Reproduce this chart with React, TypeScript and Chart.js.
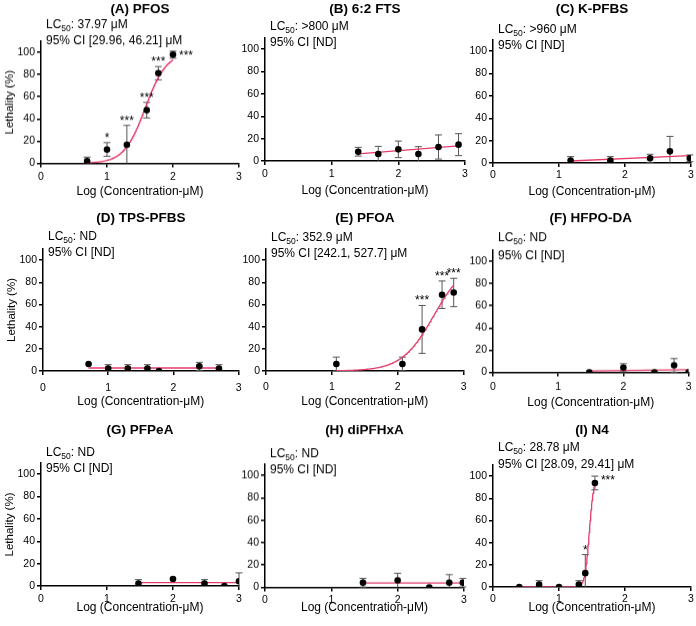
import React, { useEffect, useRef } from "react";
import { Chart, registerables } from "chart.js";

Chart.register(...registerables);

const FONT = '"Liberation Sans", Arial, Helvetica, sans-serif';
const FIT_COLOR = "#e33d6b";
const ERR_COLOR = "#555555";
const X_TITLE = "Log (Concentration-μM)";
const Y_TITLE = "Lethality (%)";
const X_TICKS = [0, 1, 2, 3];
const Y_TICKS = [0, 20, 40, 60, 80, 100];

// (A) PFOS
const pfosX = [0.699, 1.0, 1.301, 1.602, 1.778, 2.0];
const pfosY = [2.1, 12.5, 16.7, 47.9, 81.2, 97.9];
const pfosSd = [3.5, 6.2, 17.5, 7.0, 6.0, 3.2];
const pfosStars = ["", "*", "***", "***", "***", "***"];
const pfosStarSide = ["", "above", "above", "above", "above", "right"];
const pfosLc50 = 37.97;
const pfosHill = 2.7;

// (B) 6:2 FTS
const ftsX = [1.398, 1.699, 2.0, 2.301, 2.602, 2.903];
const ftsY = [8.3, 6.3, 10.4, 6.3, 12.5, 14.6];
const ftsSd = [3.9, 6.8, 7.4, 6.5, 10.8, 9.8];
const ftsFitX = [1.398, 2.903];
const ftsFitY = [6.3, 13.6];

// (C) K-PFBS
const kpfbsX = [1.176, 1.778, 2.38, 2.681, 2.982];
const kpfbsY = [2.1, 2.1, 4.2, 10.4, 4.2];
const kpfbsSd = [3.6, 3.6, 3.6, 13.4, 3.0];
const kpfbsFitX = [1.176, 2.982];
const kpfbsFitY = [1.8, 6.6];

// (D) TPS-PFBS
const tpsX = [0.699, 1.0, 1.301, 1.602, 1.778, 2.398, 2.699];
const tpsY = [6.3, 2.1, 2.1, 2.1, 0, 4.2, 2.1];
const tpsSd = [0, 3.6, 3.6, 3.6, 0, 3.6, 3.6];
const tpsFitX = [0.699, 2.699];
const tpsFitY = [2.7, 2.7];

// (E) PFOA
const pfoaX = [1.068, 2.071, 2.37, 2.673, 2.85];
const pfoaY = [6.3, 6.3, 37.5, 68.8, 70.8];
const pfoaSd = [6.2, 6.2, 21.6, 12.4, 12.8];
const pfoaStars = ["", "", "***", "***", "***"];
const pfoaStarSide = ["", "", "above", "above", "above"];
const pfoaLc50 = 352.9;
const pfoaHill = 1.78;

// (F) HFPO-DA
const hfpoX = [1.477, 2.0, 2.477, 2.778, 3.0];
const hfpoY = [0, 4.2, 0, 6.3, 0];
const hfpoSd = [0, 3.6, 0, 6.1, 0];
const hfpoFitX = [1.477, 3.0];
const hfpoFitY = [1.2, 2.3];

// (G) PFPeA
const pfpeaX = [1.477, 2.0, 2.477, 2.778, 3.0];
const pfpeaY = [2.1, 6.3, 2.1, 0, 4.2];
const pfpeaSd = [3.6, 0, 3.6, 0, 7.5];
const pfpeaFitX = [1.477, 3.0];
const pfpeaFitY = [3.0, 3.0];

// (H) diPFHxA
const dipfhxaX = [1.477, 2.0, 2.477, 2.778, 2.982];
const dipfhxaY = [4.2, 6.3, 0, 4.2, 4.2];
const dipfhxaSd = [3.9, 6.3, 0, 7.2, 3.8];
const dipfhxaFitX = [1.477, 3.0];
const dipfhxaFitY = [3.9, 3.9];

// (I) N4
const n4X = [0.398, 0.699, 1.0, 1.301, 1.398, 1.544];
const n4Y = [0, 2.1, 0, 2.1, 12.5, 93.8];
const n4Sd = [0, 3.6, 0, 3.6, 16.7, 6.2];
const n4Stars = ["", "", "", "", "*", "***"];
const n4StarSide = ["", "", "", "", "above", "right"];
const n4Lc50 = 28.78;
const n4Hill = 13;

type Fit =
  | { kind: "hill"; lc50: number; slope: number; from: number; to: number }
  | { kind: "line"; x: number[]; y: number[] };

type Geom = {
  plotLeft: number;
  plotRight: number;
  plotTop: number;
  plotBottom: number;
  canvasTop: number;
  titleY: number;
  lcY: number;
  ciY: number;
  xTickPad: number;
  xAxisH: number;
  yTitle: boolean;
};

type PanelSpec = {
  title: string;
  lcRest: string;
  ci: string;
  x: number[];
  y: number[];
  sd: number[];
  stars?: string[];
  starSide?: string[];
  fit: Fit;
  geom: Geom;
};

const Y_AXIS_W = 41;
const STAR_SIZE = 12;

// four-parameter logistic (bottom 0, top 100) evaluated over the fitted range
function hillCurve(lc50: number, slope: number, from: number, to: number) {
  const logLc = Math.log10(lc50);
  const pts: { x: number; y: number }[] = [];
  const n = 160;
  for (let i = 0; i <= n; i++) {
    const x = from + ((to - from) * i) / n;
    pts.push({ x, y: 100 / (1 + Math.pow(10, (logLc - x) * slope)) });
  }
  return pts;
}

function fitPoints(fit: Fit) {
  if (fit.kind === "hill") return hillCurve(fit.lc50, fit.slope, fit.from, fit.to);
  return fit.x.map((x, i) => ({ x, y: fit.y[i] }));
}

const panels: PanelSpec[] = [
  {
    title: "(A) PFOS", lcRest: ": 37.97 μM", ci: "95% CI [29.96, 46.21] μM",
    x: pfosX, y: pfosY, sd: pfosSd, stars: pfosStars, starSide: pfosStarSide,
    fit: { kind: "hill", lc50: pfosLc50, slope: pfosHill, from: pfosX[0], to: pfosX[pfosX.length - 1] },
    geom: { plotLeft: 41, plotRight: 239, plotTop: 41, plotBottom: 163, canvasTop: 0, titleY: 9, lcY: 25, ciY: 41, xTickPad: 3, xAxisH: 35.5, yTitle: true },
  },
  {
    title: "(B) 6:2 FTS", lcRest: ": >800 μM", ci: "95% CI [ND]",
    x: ftsX, y: ftsY, sd: ftsSd,
    fit: { kind: "line", x: ftsFitX, y: ftsFitY },
    geom: { plotLeft: 265, plotRight: 465, plotTop: 38, plotBottom: 161, canvasTop: 0, titleY: 9, lcY: 27, ciY: 43, xTickPad: 2.5, xAxisH: 37, yTitle: false },
  },
  {
    title: "(C) K-PFBS", lcRest: ": >960 μM", ci: "95% CI [ND]",
    x: kpfbsX, y: kpfbsY, sd: kpfbsSd,
    fit: { kind: "line", x: kpfbsFitX, y: kpfbsFitY },
    geom: { plotLeft: 493, plotRight: 691, plotTop: 40, plotBottom: 163, canvasTop: 0, titleY: 9, lcY: 30, ciY: 46, xTickPad: 2, xAxisH: 36, yTitle: false },
  },
  {
    title: "(D) TPS-PFBS", lcRest: ": ND", ci: "95% CI [ND]",
    x: tpsX, y: tpsY, sd: tpsSd,
    fit: { kind: "line", x: tpsFitX, y: tpsFitY },
    geom: { plotLeft: 43, plotRight: 240, plotTop: 249, plotBottom: 371, canvasTop: 203, titleY: 218, lcY: 237, ciY: 253, xTickPad: 6.5, xAxisH: 38, yTitle: true },
  },
  {
    title: "(E) PFOA", lcRest: ": 352.9 μM", ci: "95% CI [242.1, 527.7] μM",
    x: pfoaX, y: pfoaY, sd: pfoaSd, stars: pfoaStars, starSide: pfoaStarSide,
    fit: { kind: "hill", lc50: pfoaLc50, slope: pfoaHill, from: pfoaX[0], to: pfoaX[pfoaX.length - 1] },
    geom: { plotLeft: 266, plotRight: 464, plotTop: 249, plotBottom: 371, canvasTop: 203, titleY: 218, lcY: 238, ciY: 254, xTickPad: 5.5, xAxisH: 38, yTitle: false },
  },
  {
    title: "(F) HFPO-DA", lcRest: ": ND", ci: "95% CI [ND]",
    x: hfpoX, y: hfpoY, sd: hfpoSd,
    fit: { kind: "line", x: hfpoFitX, y: hfpoFitY },
    geom: { plotLeft: 493, plotRight: 691, plotTop: 250, plotBottom: 372, canvasTop: 203, titleY: 218, lcY: 238, ciY: 256, xTickPad: 4.5, xAxisH: 37.5, yTitle: false },
  },
  {
    title: "(G) PFPeA", lcRest: ": ND", ci: "95% CI [ND]",
    x: pfpeaX, y: pfpeaY, sd: pfpeaSd,
    fit: { kind: "line", x: pfpeaFitX, y: pfpeaFitY },
    geom: { plotLeft: 41, plotRight: 239, plotTop: 463, plotBottom: 586, canvasTop: 411, titleY: 430, lcY: 453, ciY: 469, xTickPad: 2.5, xAxisH: 29, yTitle: true },
  },
  {
    title: "(H) diPFHxA", lcRest: ": ND", ci: "95% CI [ND]",
    x: dipfhxaX, y: dipfhxaY, sd: dipfhxaSd,
    fit: { kind: "line", x: dipfhxaFitX, y: dipfhxaFitY },
    geom: { plotLeft: 265, plotRight: 464, plotTop: 464, plotBottom: 587, canvasTop: 411, titleY: 430, lcY: 454, ciY: 470, xTickPad: 2, xAxisH: 27.5, yTitle: false },
  },
  {
    title: "(I) N4", lcRest: ": 28.78 μM", ci: "95% CI [28.09, 29.41] μM",
    x: n4X, y: n4Y, sd: n4Sd, stars: n4Stars, starSide: n4StarSide,
    fit: { kind: "hill", lc50: n4Lc50, slope: n4Hill, from: n4X[0], to: n4X[n4X.length - 1] },
    geom: { plotLeft: 493, plotRight: 691, plotTop: 465, plotBottom: 587, canvasTop: 411, titleY: 430, lcY: 448, ciY: 465, xTickPad: 1.5, xAxisH: 28, yTitle: false },
  },
];

function canvasBox(g: Geom) {
  const left = g.plotLeft - Y_AXIS_W;
  const right = Math.min(g.plotRight + 8, 696);
  return {
    left,
    top: g.canvasTop,
    width: right - left,
    height: g.plotBottom + g.xAxisH - g.canvasTop,
    padRight: right - g.plotRight,
    padTop: g.plotTop - g.canvasTop,
  };
}

function Panel({ spec }: { spec: PanelSpec }) {
  const ref = useRef<HTMLCanvasElement>(null);
  const g = spec.geom;
  const box = canvasBox(g);

  useEffect(() => {
    const canvas = ref.current;
    if (!canvas) return;

    const decorations = {
      id: "panelDecorations",
      beforeDatasetsDraw(chart: any) {
        const { ctx } = chart;
        const xs = chart.scales.x;
        const ys = chart.scales.y;
        ctx.save();
        ctx.strokeStyle = ERR_COLOR;
        ctx.lineWidth = 1;
        spec.x.forEach((xv, i) => {
          const sd = spec.sd[i];
          if (!sd) return;
          const px = xs.getPixelForValue(xv);
          const top = ys.getPixelForValue(spec.y[i] + sd);
          const low = spec.y[i] - sd;
          const bot = ys.getPixelForValue(Math.max(low, 0));
          ctx.beginPath();
          ctx.moveTo(px, top);
          ctx.lineTo(px, bot);
          ctx.moveTo(px - 3.5, top);
          ctx.lineTo(px + 3.5, top);
          if (low > 0) {
            ctx.moveTo(px - 3.5, bot);
            ctx.lineTo(px + 3.5, bot);
          }
          ctx.stroke();
        });
        ctx.restore();
      },
      afterDatasetsDraw(chart: any) {
        if (!spec.stars) return;
        const { ctx } = chart;
        const xs = chart.scales.x;
        const ys = chart.scales.y;
        const glyphMid = STAR_SIZE * 0.58;
        ctx.save();
        ctx.fillStyle = "#000";
        ctx.font = `${STAR_SIZE}px ${FONT}`;
        ctx.textBaseline = "alphabetic";
        spec.stars.forEach((s, i) => {
          if (!s) return;
          const px = xs.getPixelForValue(spec.x[i]);
          const capTop = ys.getPixelForValue(spec.y[i] + spec.sd[i]);
          const side = spec.starSide ? spec.starSide[i] : "above";
          if (side === "right") {
            ctx.textAlign = "left";
            ctx.fillText(s, px + 6, capTop + 1 + glyphMid);
          } else {
            ctx.textAlign = "center";
            ctx.fillText(s, px, capTop - 8 + glyphMid);
          }
        });
        ctx.restore();
      },
      afterDraw(chart: any) {
        const { ctx, chartArea } = chart;
        ctx.save();
        ctx.fillStyle = "#000";
        // panel heading
        ctx.font = `bold 13.5px ${FONT}`;
        ctx.textAlign = "center";
        ctx.textBaseline = "middle";
        ctx.fillText(spec.title, (chartArea.left + chartArea.right) / 2, g.titleY - g.canvasTop);
        // LC50 and confidence interval
        const tx = chartArea.left + 5;
        const lcY = g.lcY - g.canvasTop;
        ctx.textAlign = "left";
        ctx.font = `12px ${FONT}`;
        ctx.fillText("LC", tx, lcY);
        let cx = tx + ctx.measureText("LC").width;
        ctx.font = `8.5px ${FONT}`;
        ctx.fillText("50", cx, lcY + 3.5);
        cx += ctx.measureText("50").width;
        ctx.font = `12px ${FONT}`;
        ctx.fillText(spec.lcRest, cx, lcY);
        ctx.fillText(spec.ci, tx, g.ciY - g.canvasTop);
        ctx.restore();
      },
    };

    const chart = new Chart(canvas, {
      type: "scatter",
      data: {
        datasets: [
          {
            data: spec.x.map((x, i) => ({ x, y: spec.y[i] })),
            pointRadius: 3.3,
            pointBackgroundColor: "#000",
            pointBorderWidth: 0,
            showLine: false,
            order: 0,
          },
          {
            data: fitPoints(spec.fit),
            showLine: true,
            borderColor: FIT_COLOR,
            borderWidth: 1.3,
            pointRadius: 0,
            tension: 0,
            order: 1,
          },
        ],
      },
      options: {
        animation: false,
        responsive: false,
        maintainAspectRatio: false,
        devicePixelRatio: 1,
        events: [],
        layout: { padding: { left: 0, right: box.padRight, top: box.padTop, bottom: 0 } },
        plugins: { legend: { display: false }, tooltip: { enabled: false }, title: { display: false } },
        scales: {
          x: {
            type: "linear",
            position: "bottom",
            min: 0,
            max: 3,
            afterBuildTicks: (s: any) => {
              s.ticks = X_TICKS.map((value) => ({ value }));
            },
            afterFit: (s: any) => {
              s.height = g.xAxisH;
            },
            ticks: { color: "#000", font: { family: FONT, size: 10.5 }, padding: g.xTickPad, maxRotation: 0, autoSkip: false },
            grid: { drawOnChartArea: false, drawTicks: true, tickLength: 4, color: "#000", lineWidth: 1.5 },
            border: { display: true, color: "#000", width: 1.5 },
            title: { display: true, text: X_TITLE, color: "#000", font: { family: FONT, size: 12 }, padding: 0 },
          },
          y: {
            type: "linear",
            min: 0,
            max: 110,
            afterBuildTicks: (s: any) => {
              s.ticks = Y_TICKS.map((value) => ({ value }));
            },
            afterFit: (s: any) => {
              s.width = Y_AXIS_W;
            },
            ticks: { color: "#000", font: { family: FONT, size: 10.5 }, padding: 2, autoSkip: false },
            grid: { drawOnChartArea: false, drawTicks: true, tickLength: 4, color: "#000", lineWidth: 1.5 },
            border: { display: true, color: "#000", width: 1.5 },
            title: { display: g.yTitle, text: Y_TITLE, color: "#000", font: { family: FONT, size: 11.5 }, padding: { top: 3, bottom: 0 } },
          },
        },
      } as any,
      plugins: [decorations],
    });
    return () => chart.destroy();
  }, [spec]);

  return (
    <canvas
      ref={ref}
      width={box.width}
      height={box.height}
      style={{ position: "absolute", left: box.left, top: box.top, width: box.width, height: box.height }}
    />
  );
}

export default function App() {
  return (
    <div style={{ position: "absolute", left: 0, top: 0, width: 696, height: 626, overflow: "hidden", background: "#fff" }}>
      {panels.map((p) => (
        <Panel key={p.title} spec={p} />
      ))}
    </div>
  );
}
